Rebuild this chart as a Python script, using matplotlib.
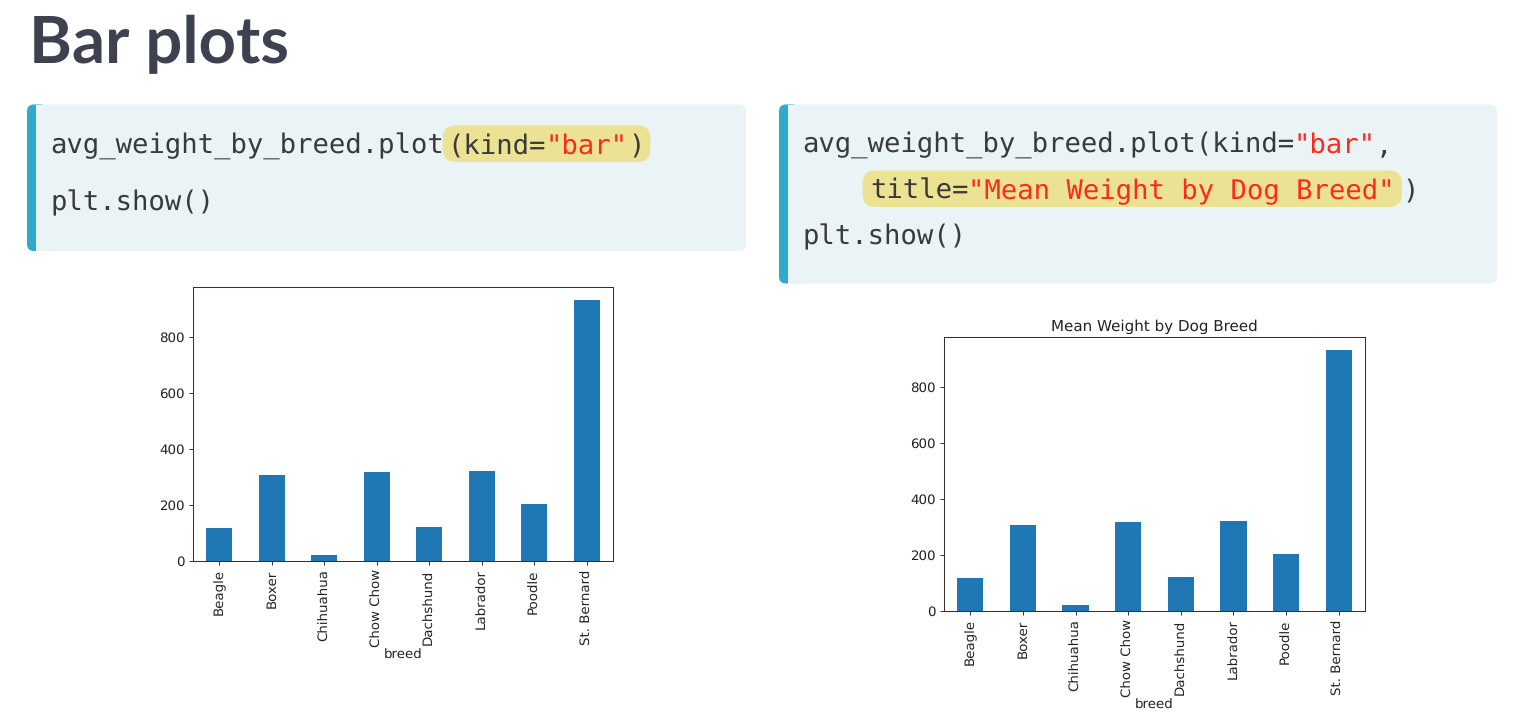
import matplotlib
matplotlib.use("Agg")
import matplotlib.pyplot as plt
from matplotlib.patches import FancyBboxPatch, Rectangle

# unhinted text so monospace advances stay fractional
plt.rcParams["text.hinting"] = "no_hinting"

W, H = 1532, 718

# data: mean weight by dog breed
breeds = ["Beagle", "Boxer", "Chihuahua", "Chow Chow",
          "Dachshund", "Labrador", "Poodle", "St. Bernard"]
weights = [118, 307, 20, 317, 123, 321, 205, 932]

# code snippets shown above each chart: (text, colour, highlighted)
code_left = [
    [("avg_weight_by_breed.plot", "dark", False), ("(kind=", "dark", True),
     ('"bar"', "red", True), (")", "dark", True)],
    [("plt.show()", "dark", False)],
]
code_right = [
    [("avg_weight_by_breed.plot(kind=", "dark", False), ('"bar"', "red", False),
     (",", "dark", False)],
    [("    ", "dark", False), ("title=", "dark", True),
     ('"Mean Weight by Dog Breed"', "red", True), (")", "dark", False)],
    [("plt.show()", "dark", False)],
]

colors = {"dark": "#3a3a3a", "red": "#ff2a17"}
box_bg = "#eaf3f6"
box_bar = "#31a9cc"
hl_color = "#ebe294"
bar_color = "#1f77b4"

fig = plt.figure(figsize=(W / 100, H / 100), dpi=100)

# overlay axes in pixel units for the slide decoration
bg = fig.add_axes([0, 0, 1, 1])
bg.set_xlim(0, W)
bg.set_ylim(H, 0)
bg.axis("off")

bg.text(29, 63, "Bar plots", fontfamily="Lato", fontweight="bold",
        fontsize=47, color="#3d4150", va="baseline", ha="left")

ADV = 16.4       # char advance in px
FS = ADV / (0.60205 * 100 / 72)


def code_box(x, y, w, h):
    bg.add_patch(FancyBboxPatch((x, y), w, h, boxstyle="round,pad=0,rounding_size=7",
                                fc=box_bg, ec="none"))
    bg.add_patch(FancyBboxPatch((x, y), 20, h, boxstyle="round,pad=0,rounding_size=7",
                                fc=box_bar, ec="none"))
    bg.add_patch(Rectangle((x + 9, y), 14, h, fc=box_bg, ec="none"))


def highlight(x0, x1, base):
    bg.add_patch(FancyBboxPatch((x0, base - 28.5), x1 - x0, 36.5,
                                boxstyle="round,pad=0,rounding_size=13",
                                fc=hl_color, ec="none", zorder=1))


def code_line(x0, base, segs, pre=0, shift=0, post=0):
    x = x0
    hl_start = None
    for text, col, is_hl in segs:
        if is_hl and hl_start is None:
            hl_start = x - pre
            x += shift
        if not is_hl and hl_start is not None:
            x += post
            highlight(hl_start, x, base)
            hl_start = None
        if text.strip():
            bg.text(x, base, text, fontfamily="DejaVu Sans Mono",
                    fontsize=FS, color=colors[col], va="baseline", ha="left", zorder=2)
        x += len(text) * ADV
    if hl_start is not None:
        highlight(hl_start, x + post, base)


code_box(27, 104.5, 719, 146.5)
for line, base in zip(code_left, [154, 210]):
    code_line(50, base, line, pre=1, shift=4, post=6)

code_box(779, 104.5, 718, 179)
for line, base in zip(code_right, [153, 199, 244]):
    code_line(802, base, line, pre=5, shift=2.5, post=7)


def bar_chart(rect, title=None):
    ax = fig.add_axes(rect)
    ax.bar(range(len(breeds)), weights, width=0.5, color=bar_color)
    ax.set_xlim(-0.5, len(breeds) - 0.5)
    ax.set_xticks(range(len(breeds)))
    ax.set_xticklabels(breeds, rotation=90)
    ax.set_yticks([0, 200, 400, 600, 800])
    ax.set_xlabel("breed", fontsize=9.6, labelpad=1, color="#222222")
    ax.tick_params(labelsize=9.6, length=3, width=0.7, pad=3, colors="#333333",
                   labelcolor="#222222")
    for s in ax.spines.values():
        s.set_linewidth(0.75)
        s.set_color("#333333")
    if title:
        ax.set_title(title, fontsize=10.9, color="#222222", pad=4)
    return ax


bar_chart([193 / W, 1 - 561 / H, 420 / W, 274 / H])
bar_chart([944 / W, 1 - 611 / H, 421 / W, 274.3 / H], title="Mean Weight by Dog Breed")

fig.savefig("out.png", dpi=100)
